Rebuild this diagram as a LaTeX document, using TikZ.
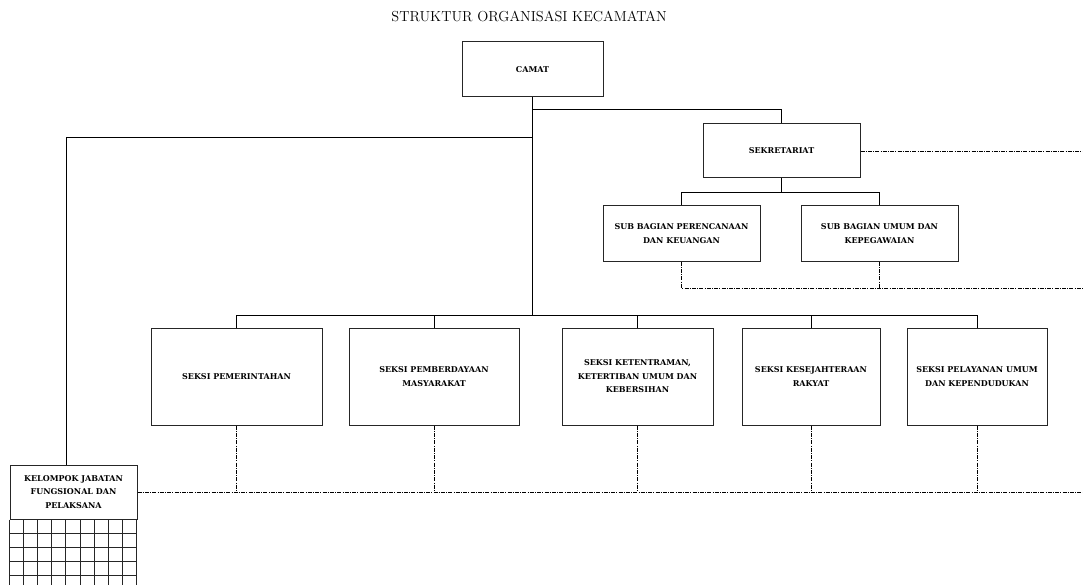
\documentclass[tikz,border=0pt]{standalone}
\usepackage{fontspec}
\usepackage{tikz}
\usetikzlibrary{positioning,calc}
\newfontfamily\unitfont{DejaVu Serif}
\tikzset{unit box/.style={draw=black!85,line width=1pt,inner sep=2pt,align=center,font=\unitfont\bfseries\fontsize{8}{13.5}\selectfont},solid link/.style={line width=1pt},staff link/.style={line width=0.8pt,dash pattern=on 4pt off 1.2pt on 1pt off 1.2pt},title label/.style={font=\fontsize{14.5}{16}\selectfont}}

\begin{document}
\begin{tikzpicture}[x=1pt,y=-1pt]
	\useasboundingbox (0,0) rectangle (1083,585);
	\node[title label] (T) at (529,16) {STRUKTUR ORGANISASI KECAMATAN};
	\node[unit box,minimum width=141pt,minimum height=55pt] (C) at (532.5,69.5) {CAMAT};
	\node[unit box,minimum width=157pt,minimum height=54pt] (S) at (781.5,151) {SEKRETARIAT};
	\node[unit box,minimum width=157pt,minimum height=55pt] (P) at (681.5,233.5) {SUB BAGIAN PERENCANAAN\\DAN KEUANGAN};
	\node[unit box,minimum width=157pt,minimum height=55pt] (U) at (879.5,233.5) {SUB BAGIAN UMUM DAN\\KEPEGAWAIAN};
	\node[unit box,minimum width=171pt,minimum height=97pt] (S1) at (236.5,376.5) {SEKSI PEMERINTAHAN};
	\node[unit box,minimum width=170pt,minimum height=97pt] (S2) at (434,376.5) {SEKSI PEMBERDAYAAN\\MASYARAKAT};
	\node[unit box,minimum width=151pt,minimum height=97pt] (S3) at (637.5,376.5) {SEKSI KETENTRAMAN,\\KETERTIBAN UMUM DAN\\KEBERSIHAN};
	\node[unit box,minimum width=138pt,minimum height=97pt] (S4) at (811,376.5) {SEKSI KESEJAHTERAAN\\RAKYAT};
	\node[unit box,minimum width=140pt,minimum height=97pt] (S5) at (977,376.5) {SEKSI PELAYANAN UMUM\\DAN KEPENDUDUKAN};
	\node[unit box,minimum width=127pt,minimum height=54pt] (K) at (73.5,492) {KELOMPOK JABATAN\\FUNGSIONAL DAN\\PELAKSANA};
	\foreach \i in {0,...,9}
		\draw[line width=1pt,black!85] ($(K.south west)+(\i*14.11,0)$) -- ++(0,66);
	\foreach \j in {1,...,4}
		\draw[line width=1pt,black!85] ($(K.south west)+(0,\j*14)$) -- ++(127,0);
	\coordinate (B) at ($(C.south)+(0,218)$);
	\coordinate (E1) at (1083,288);
	\coordinate (E2) at (1083,492);
	\draw[solid link] (C.south) -- (B);
	\draw[solid link] (C.south) ++(0,12) -| (S.north);
	\draw[solid link] (C.south) ++(0,40) -| ($(K.north)+(-7.5,0)$);
	\foreach \s in {S1,S2,S3,S4,S5}
		\draw[solid link] (B) -| (\s.north);
	\draw[solid link] (S.south) -- ++(0,14) -| (P.north);
	\draw[solid link] (S.south) -- ++(0,14) -| (U.north);
	\draw[staff link] (S.east) -- (S.east -| E1);
	\draw[staff link] (P.south) |- (E1);
	\draw[staff link] (U.south) -- (U.south |- E1);
	\draw[staff link] (K.east) -- (E2);
	\foreach \s in {S1,S2,S3,S4,S5}
		\draw[staff link] (\s.south) -- (\s.south |- E2);
\end{tikzpicture}
\end{document}
